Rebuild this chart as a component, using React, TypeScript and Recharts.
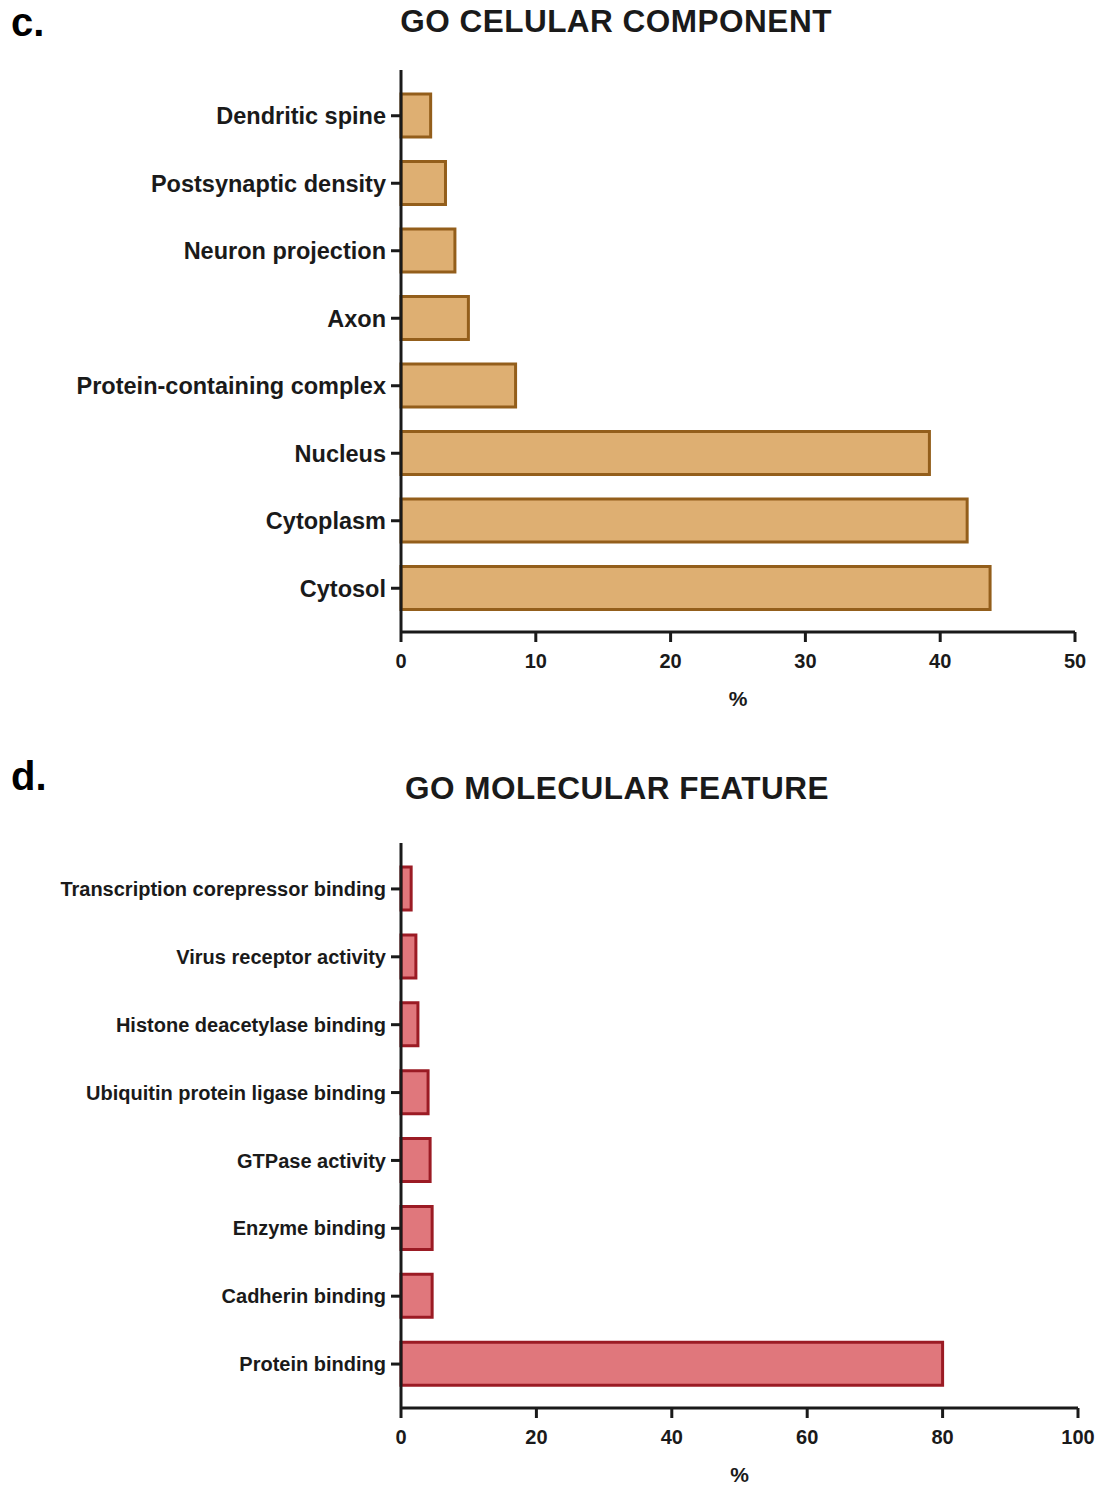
import React from 'react';
import { BarChart, Bar, XAxis, YAxis } from 'recharts';

// GO cellular component (panel c)
const ccTerms = [
  'Dendritic spine',
  'Postsynaptic density',
  'Neuron projection',
  'Axon',
  'Protein-containing complex',
  'Nucleus',
  'Cytoplasm',
  'Cytosol',
];
const ccPercent = [2.2, 3.3, 4.0, 5.0, 8.5, 39.2, 42.0, 43.7];
const ccTicks = [0, 10, 20, 30, 40, 50];

// GO molecular function (panel d)
const mfTerms = [
  'Transcription corepressor binding',
  'Virus receptor activity',
  'Histone deacetylase binding',
  'Ubiquitin protein ligase binding',
  'GTPase activity',
  'Enzyme binding',
  'Cadherin binding',
  'Protein binding',
];
const mfPercent = [1.5, 2.2, 2.5, 4.0, 4.3, 4.6, 4.6, 80.0];
const mfTicks = [0, 20, 40, 60, 80, 100];

const FONT = '"Liberation Sans", Arial, Helvetica, sans-serif';
const INK = '#1a1a1a';

const ccData = ccTerms.map((name, i) => ({ name, value: ccPercent[i] }));
const mfData = mfTerms.map((name, i) => ({ name, value: mfPercent[i] }));

interface PanelProps {
  data: { name: string; value: number }[];
  ticks: number[];
  fill: string;
  stroke: string;
  labelSize: number;
  height: number;
  top: number;
  right: number;
}

const Panel = ({ data, ticks, fill, stroke, labelSize, height, top, right }: PanelProps) => (
  <BarChart
    width={1096}
    height={height}
    data={data}
    layout="vertical"
    margin={{ top, right, bottom: 0, left: 0 }}
    barSize={43}
  >
    <XAxis
      type="number"
      domain={[0, ticks[ticks.length - 1]]}
      ticks={ticks}
      axisLine={{ stroke: INK, strokeWidth: 3 }}
      tickLine={{ stroke: INK, strokeWidth: 3 }}
      tickSize={10}
      tickMargin={12}
      height={80}
      tick={{ fill: INK, fontSize: 20, fontWeight: 700, fontFamily: FONT }}
      label={{
        value: '%',
        position: 'insideBottom',
        offset: 6,
        fill: INK,
        fontSize: 21,
        fontWeight: 700,
        fontFamily: FONT,
      }}
    />
    <YAxis
      type="category"
      dataKey="name"
      width={401}
      padding={{ top: 12, bottom: 10 }}
      axisLine={{ stroke: INK, strokeWidth: 3 }}
      tickLine={{ stroke: INK, strokeWidth: 3 }}
      tickSize={10}
      tickMargin={5}
      interval={0}
      tick={{ fill: INK, fontSize: labelSize, fontWeight: 700, fontFamily: FONT }}
    />
    <Bar dataKey="value" fill={fill} stroke={stroke} strokeWidth={3} isAnimationActive={false} />
  </BarChart>
);

const titleStyle: React.CSSProperties = {
  position: 'absolute',
  fontFamily: FONT,
  fontWeight: 700,
  color: INK,
  whiteSpace: 'nowrap',
};

export default function App() {
  return (
    <div style={{ position: 'absolute', left: 0, top: 0, width: 1096, height: 1486, background: '#fff' }}>
      <div style={{ ...titleStyle, left: 11, top: 0, fontSize: 40, color: '#000' }}>c.</div>
      <div style={{ ...titleStyle, left: 0, width: 1232, top: 3, fontSize: 31.5, textAlign: 'center', letterSpacing: 0.5 }}>
        GO CELULAR COMPONENT
      </div>
      <div style={{ position: 'absolute', left: 0, top: 0 }}>
        <Panel
          data={ccData}
          ticks={ccTicks}
          fill="#DEAF72"
          stroke="#935E1B"
          labelSize={23.5}
          height={712}
          top={70}
          right={21}
        />
      </div>

      <div style={{ ...titleStyle, left: 11, top: 754, fontSize: 40, color: '#000' }}>d.</div>
      <div style={{ ...titleStyle, left: 0, width: 1234, top: 770, fontSize: 31.5, textAlign: 'center', letterSpacing: 0.5 }}>
        GO MOLECULAR FEATURE
      </div>
      <div style={{ position: 'absolute', left: 0, top: 760 }}>
        <Panel
          data={mfData}
          ticks={mfTicks}
          fill="#E0777C"
          stroke="#9B1B24"
          labelSize={20}
          height={728}
          top={83}
          right={18}
        />
      </div>
    </div>
  );
}
